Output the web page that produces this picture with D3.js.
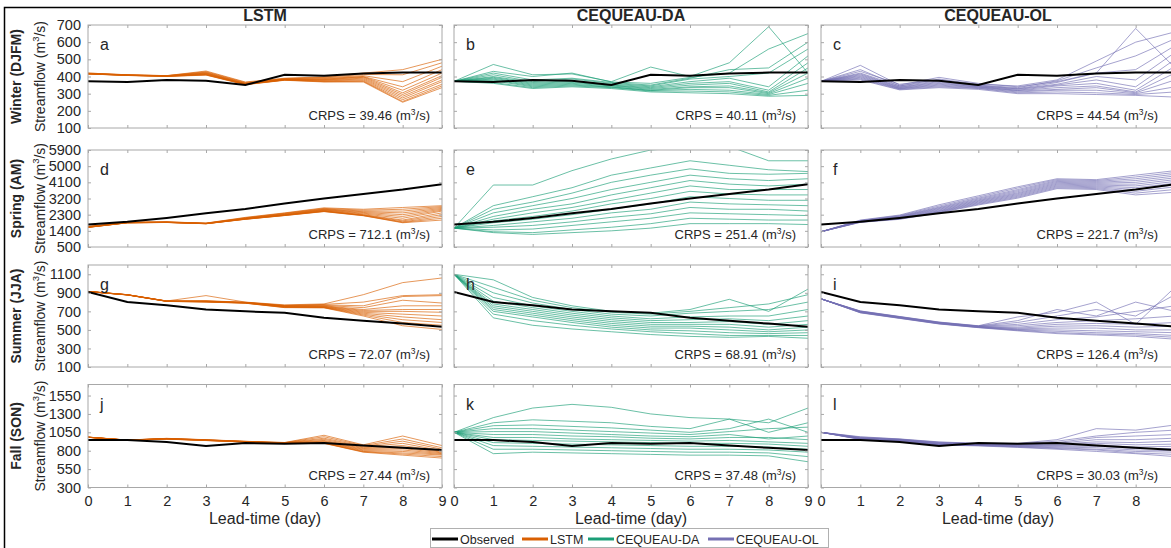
<!DOCTYPE html>
<html>
<head>
<meta charset="utf-8">
<script src="https://cdn.jsdelivr.net/npm/d3@7"></script>
<style>
    body { margin: 0; background: #fff; }
    svg { display: block; }
    text { font-family: "Liberation Sans", Arial, sans-serif; fill: #262626; }
</style>
</head>
<body>
<svg id="chart"></svg>
<script>
var leadDays = [0, 1, 2, 3, 4, 5, 6, 7, 8, 9];
var modelNames = ["LSTM", "CEQUEAU-DA", "CEQUEAU-OL"];
var modelColors = ["#d95f02", "#1b9e77", "#7570b3"];
var seasonNames = ["Winter (DJFM)", "Spring (AM)", "Summer (JJA)", "Fall (SON)"];
var panelLetters = ["a", "b", "c", "d", "e", "f", "g", "h", "i", "j", "k", "l"];

// y ticks per season row
var yTicksWinter = [100, 200, 300, 400, 500, 600, 700];
var yTicksSpring = [500, 1400, 2300, 3200, 4100, 5000, 5900];
var yTicksSummer = [100, 300, 500, 700, 900, 1100];
var yTicksFall = [300, 550, 800, 1050, 1300, 1550];

// CRPS per model, rows = seasons
var crpsLstm = ["39.46", "712.1", "72.07", "27.44"];
var crpsDa = ["40.11", "251.4", "68.91", "37.48"];
var crpsOl = ["44.54", "221.7", "126.4", "30.03"];

// observed streamflow
var observedWinter = [372, 368, 380, 375, 350, 410, 405, 418, 423, 423];
var observedSpring = [1750, 1900, 2120, 2380, 2620, 2920, 3200, 3450, 3700, 4000];
var observedSummer = [910, 800, 765, 720, 700, 685, 632, 598, 568, 535];
var observedFall = [945, 945, 918, 865, 905, 895, 905, 870, 840, 810];

// ensemble members (each row one member, lead 0..9)
var lstmWinter = [
    [420, 410, 405, 432, 368, 390, 398, 420, 440, 500],
    [420, 410, 405, 428, 365, 388, 395, 412, 410, 480],
    [418, 409, 404, 425, 362, 386, 392, 405, 370, 460],
    [418, 409, 404, 422, 360, 385, 388, 400, 340, 440],
    [417, 408, 403, 420, 358, 384, 385, 398, 320, 420],
    [417, 408, 403, 418, 357, 383, 382, 395, 305, 405],
    [416, 408, 402, 416, 356, 382, 380, 390, 295, 395],
    [416, 407, 402, 414, 355, 381, 378, 385, 285, 380],
    [416, 407, 402, 412, 355, 380, 375, 380, 275, 370],
    [415, 407, 401, 410, 354, 380, 372, 375, 265, 355],
    [415, 406, 401, 410, 353, 379, 370, 372, 255, 345],
    [415, 406, 400, 408, 352, 378, 368, 368, 250, 335]
];
var daWinter = [
    [372, 470, 410, 415, 370, 455, 400, 480, 690, 420],
    [372, 430, 400, 420, 368, 360, 395, 420, 560, 650],
    [372, 420, 380, 390, 365, 350, 390, 440, 450, 600],
    [372, 410, 370, 385, 360, 345, 385, 400, 420, 560],
    [372, 400, 365, 375, 355, 340, 370, 390, 340, 520],
    [372, 395, 360, 370, 350, 335, 360, 370, 320, 480],
    [372, 390, 355, 365, 348, 330, 350, 360, 310, 450],
    [372, 385, 350, 360, 345, 325, 340, 345, 305, 420],
    [372, 380, 345, 355, 340, 320, 335, 335, 300, 390],
    [372, 375, 340, 350, 338, 318, 325, 320, 295, 360],
    [372, 365, 335, 345, 335, 315, 315, 310, 290, 320],
    [372, 360, 330, 340, 330, 310, 305, 300, 285, 290]
];
var olWinter = [
    [372, 465, 350, 395, 360, 340, 370, 420, 680, 450],
    [372, 440, 345, 385, 355, 345, 380, 490, 600, 660],
    [372, 430, 355, 380, 350, 335, 375, 450, 520, 620],
    [372, 420, 345, 375, 348, 330, 365, 420, 440, 580],
    [372, 415, 340, 370, 345, 328, 355, 400, 380, 540],
    [372, 410, 338, 365, 342, 325, 350, 380, 340, 500],
    [372, 405, 335, 360, 340, 320, 345, 360, 320, 460],
    [372, 400, 332, 355, 338, 318, 335, 345, 310, 420],
    [372, 395, 330, 350, 335, 315, 325, 335, 305, 380],
    [372, 390, 328, 345, 332, 310, 320, 320, 300, 340],
    [372, 385, 325, 340, 330, 305, 310, 305, 295, 310],
    [372, 380, 322, 335, 325, 300, 300, 295, 290, 280]
];
var lstmSpring = [
    [1650, 1880, 1900, 1830, 2150, 2400, 2680, 2600, 2700, 2800],
    [1640, 1875, 1895, 1825, 2130, 2380, 2650, 2550, 2600, 2750],
    [1630, 1870, 1890, 1820, 2110, 2360, 2620, 2500, 2500, 2700],
    [1620, 1865, 1885, 1815, 2100, 2340, 2600, 2460, 2400, 2650],
    [1615, 1860, 1880, 1810, 2090, 2320, 2580, 2420, 2300, 2600],
    [1610, 1858, 1878, 1808, 2080, 2300, 2560, 2380, 2200, 2550],
    [1605, 1855, 1875, 1805, 2070, 2290, 2540, 2340, 2100, 2500],
    [1600, 1852, 1872, 1802, 2060, 2280, 2520, 2300, 2000, 2400],
    [1598, 1850, 1870, 1800, 2055, 2270, 2500, 2280, 1950, 2300],
    [1595, 1848, 1868, 1798, 2050, 2260, 2490, 2260, 1900, 2200],
    [1592, 1846, 1866, 1796, 2045, 2255, 2480, 2250, 1870, 2100],
    [1590, 1845, 1865, 1795, 2040, 2250, 2470, 2240, 1850, 2000]
];
var daSpring = [
    [1550, 3950, 3950, 4750, 5400, 5900, 6050, 6100, 5300, 5300],
    [1550, 2800, 3300, 3800, 4500, 4900, 5300, 5050, 4800, 4700],
    [1550, 2600, 3000, 3500, 4100, 4500, 4850, 4600, 4550, 4600],
    [1550, 2400, 2800, 3200, 3700, 4100, 4500, 4300, 4200, 4300],
    [1550, 2200, 2600, 2900, 3400, 3800, 4200, 4000, 3900, 4000],
    [1550, 2050, 2400, 2700, 3100, 3500, 3900, 3700, 3700, 3700],
    [1550, 1950, 2200, 2500, 2900, 3200, 3600, 3450, 3400, 3400],
    [1550, 1850, 2050, 2300, 2600, 2900, 3300, 3200, 3100, 3100],
    [1550, 1700, 1900, 2100, 2400, 2600, 3000, 2900, 2850, 2800],
    [1550, 1600, 1700, 1900, 2150, 2350, 2700, 2600, 2600, 2500],
    [1550, 1450, 1500, 1700, 1900, 2100, 2400, 2350, 2300, 2250],
    [1550, 1350, 1300, 1450, 1600, 1800, 2100, 2050, 2000, 2000],
    [1550, 1300, 1200, 1300, 1400, 1550, 1800, 1800, 1800, 1750]
];
var olSpring = [
    [1350, 2000, 2280, 2850, 3350, 3850, 4300, 4250, 4500, 4750],
    [1350, 1980, 2250, 2780, 3280, 3780, 4250, 4200, 4400, 4650],
    [1350, 1960, 2220, 2720, 3220, 3700, 4200, 4150, 4300, 4550],
    [1350, 1950, 2200, 2680, 3170, 3640, 4150, 4100, 4200, 4450],
    [1350, 1940, 2180, 2640, 3120, 3580, 4100, 4050, 4100, 4350],
    [1350, 1930, 2160, 2600, 3080, 3520, 4050, 4000, 4000, 4250],
    [1350, 1920, 2140, 2560, 3040, 3470, 4000, 3950, 3900, 4150],
    [1350, 1910, 2120, 2520, 3000, 3420, 3950, 3900, 3800, 4050],
    [1350, 1900, 2100, 2490, 2960, 3370, 3900, 3850, 3700, 3950],
    [1350, 1890, 2080, 2460, 2920, 3320, 3850, 3800, 3600, 3850],
    [1350, 1880, 2060, 2430, 2880, 3270, 3800, 3750, 3500, 3700],
    [1350, 1870, 2040, 2400, 2840, 3220, 3750, 3700, 3400, 3550]
];
var lstmSummer = [
    [915, 880, 812, 870, 800, 770, 780, 880, 1010, 1060],
    [915, 880, 812, 815, 798, 765, 775, 800, 870, 880],
    [915, 880, 811, 812, 797, 762, 770, 760, 860, 870],
    [915, 879, 811, 810, 796, 760, 765, 740, 820, 790],
    [914, 879, 810, 810, 795, 757, 760, 720, 760, 760],
    [914, 879, 810, 808, 794, 755, 755, 710, 720, 720],
    [914, 878, 810, 806, 793, 752, 752, 700, 700, 690],
    [914, 878, 809, 805, 792, 750, 748, 690, 670, 650],
    [913, 878, 809, 804, 791, 747, 745, 680, 640, 610],
    [913, 877, 808, 803, 790, 745, 742, 670, 610, 580],
    [913, 877, 808, 802, 789, 742, 740, 660, 580, 550],
    [913, 877, 807, 800, 788, 740, 738, 650, 545, 505]
];
var daSummer = [
    [1100, 1040, 850, 760, 700, 680, 720, 830, 700, 940],
    [1100, 960, 820, 740, 690, 670, 700, 740, 780, 880],
    [1100, 900, 790, 720, 670, 650, 680, 700, 720, 800],
    [1100, 850, 760, 700, 650, 620, 640, 650, 650, 720],
    [1100, 810, 740, 680, 630, 600, 610, 620, 600, 650],
    [1100, 780, 720, 660, 610, 580, 580, 590, 560, 600],
    [1100, 760, 700, 640, 590, 560, 560, 560, 530, 560],
    [1100, 740, 680, 620, 570, 540, 540, 530, 500, 530],
    [1100, 720, 660, 600, 550, 520, 520, 500, 480, 500],
    [1100, 700, 640, 580, 530, 500, 490, 470, 460, 470],
    [1100, 670, 600, 550, 510, 480, 460, 440, 440, 440],
    [1100, 630, 550, 510, 480, 450, 430, 420, 430, 410]
];
var olSummer = [
    [835, 705, 645, 585, 545, 640, 690, 800, 560, 960],
    [835, 703, 643, 583, 543, 600, 720, 650, 800, 700],
    [835, 701, 641, 581, 541, 580, 650, 720, 650, 880],
    [835, 699, 639, 579, 539, 560, 610, 640, 700, 760],
    [835, 697, 637, 577, 537, 545, 580, 600, 620, 650],
    [835, 695, 635, 575, 535, 530, 560, 570, 560, 580],
    [835, 694, 634, 574, 534, 520, 540, 545, 530, 540],
    [835, 692, 632, 572, 532, 512, 520, 520, 500, 500],
    [835, 690, 630, 570, 530, 505, 500, 490, 480, 470],
    [835, 688, 628, 568, 528, 500, 485, 470, 460, 440],
    [835, 686, 626, 566, 526, 495, 470, 455, 445, 420],
    [835, 684, 624, 564, 524, 490, 460, 445, 430, 400]
];
var lstmFall = [
    [985, 945, 968, 950, 928, 912, 1010, 880, 1000, 870],
    [985, 945, 967, 948, 927, 910, 990, 870, 960, 840],
    [985, 944, 966, 947, 926, 908, 970, 860, 930, 820],
    [984, 944, 965, 946, 925, 906, 955, 850, 900, 800],
    [984, 944, 964, 945, 924, 905, 940, 840, 870, 790],
    [984, 943, 963, 944, 923, 904, 930, 830, 850, 780],
    [983, 943, 962, 943, 922, 903, 920, 820, 830, 770],
    [983, 943, 961, 942, 921, 902, 915, 810, 810, 760],
    [983, 942, 960, 941, 920, 901, 910, 800, 790, 750],
    [982, 942, 959, 940, 919, 900, 905, 790, 770, 740],
    [982, 942, 958, 939, 918, 899, 902, 785, 755, 720],
    [982, 941, 957, 938, 917, 898, 900, 780, 740, 700]
];
var daFall = [
    [1050, 1250, 1380, 1430, 1390, 1300, 1250, 1230, 1180, 1380],
    [1050, 1180, 1220, 1200, 1180, 1130, 1100, 1230, 1050, 1180],
    [1050, 1140, 1150, 1130, 1110, 1080, 1050, 1100, 1230, 1050],
    [1050, 1100, 1100, 1080, 1060, 1040, 1020, 1060, 1100, 1120],
    [1050, 1060, 1060, 1040, 1020, 1000, 990, 1020, 960, 1000],
    [1050, 1020, 1020, 1000, 990, 970, 960, 980, 980, 950],
    [1050, 980, 980, 960, 950, 940, 930, 940, 920, 900],
    [1050, 950, 940, 930, 920, 910, 900, 900, 890, 860],
    [1050, 910, 900, 890, 880, 870, 860, 860, 850, 820],
    [1050, 870, 860, 850, 840, 830, 820, 820, 810, 780],
    [1050, 820, 820, 810, 800, 790, 780, 780, 770, 720],
    [1050, 760, 780, 770, 760, 750, 740, 740, 730, 650]
];
var olFall = [
    [1050, 990, 960, 920, 900, 900, 950, 1100, 1080, 1150],
    [1050, 985, 958, 915, 898, 895, 930, 1000, 1050, 1080],
    [1050, 980, 955, 910, 895, 890, 910, 980, 1000, 1020],
    [1050, 975, 952, 905, 892, 885, 900, 950, 950, 970],
    [1050, 970, 950, 900, 888, 880, 890, 920, 910, 930],
    [1050, 968, 948, 895, 885, 875, 880, 900, 880, 890],
    [1050, 965, 945, 890, 882, 870, 870, 880, 850, 860],
    [1050, 962, 942, 888, 878, 865, 860, 860, 830, 830],
    [1050, 960, 940, 885, 875, 860, 850, 840, 810, 800],
    [1050, 958, 938, 882, 872, 855, 840, 820, 790, 780],
    [1050, 955, 935, 880, 870, 850, 830, 810, 770, 750],
    [1050, 952, 932, 878, 865, 845, 820, 790, 760, 720]
];

// table built from the arrays above
var rows = [
    {ticks: yTicksWinter, obs: observedWinter, runs: [lstmWinter, daWinter, olWinter]},
    {ticks: yTicksSpring, obs: observedSpring, runs: [lstmSpring, daSpring, olSpring]},
    {ticks: yTicksSummer, obs: observedSummer, runs: [lstmSummer, daSummer, olSummer]},
    {ticks: yTicksFall, obs: observedFall, runs: [lstmFall, daFall, olFall]}
];
var crps = [crpsLstm, crpsDa, crpsOl];
var yDomains = [[100, 700], [500, 5900], [100, 1200], [300, 1700]];

var w = 1171;
var h = 548;
var colLeft = [88, 454, 821];
var plotW = 354;
var rowTop = [25, 150, 265, 384.5];
var rowBottom = [128, 247, 367, 487.5];
var axisGray = "#a8a8a8";

var svg = d3.select("#chart")
    .attr("width", w)
    .attr("height", h);

// figure frame
svg.append("rect")
    .attr("x", 4.5)
    .attr("y", 7.5)
    .attr("width", w + 10)
    .attr("height", h + 10)
    .attr("fill", "none")
    .attr("stroke", "#000")
    .attr("stroke-width", 1.5);

// column titles
modelNames.forEach(function (name, c) {
    svg.append("text")
        .text(name)
        .attr("x", colLeft[c] + plotW / 2)
        .attr("y", 21)
        .attr("text-anchor", "middle")
        .attr("font-size", "16px")
        .attr("font-weight", "bold")
        .attr("fill", "#000");
});

rows.forEach(function (row, r) {
    var y = d3.scaleLinear().domain(yDomains[r]).range([rowBottom[r], rowTop[r]]);
    var midY = (rowTop[r] + rowBottom[r]) / 2;

    // two-line y label
    svg.append("text")
        .text(seasonNames[r])
        .attr("transform", "translate(16," + midY + ") rotate(-90)")
        .attr("text-anchor", "middle")
        .attr("dominant-baseline", "central")
        .attr("font-size", "14px")
        .attr("font-weight", "bold")
        .attr("fill", "#000");
    var yl = svg.append("text")
        .attr("transform", "translate(40," + midY + ") rotate(-90)")
        .attr("text-anchor", "middle")
        .attr("dominant-baseline", "central")
        .attr("font-size", "14px");
    yl.append("tspan").text("Streamflow (m");
    yl.append("tspan").text("3").attr("font-size", "9.5px").attr("dy", -5);
    yl.append("tspan").text("/s)").attr("dy", 5);

    modelNames.forEach(function (name, c) {
        var x = d3.scaleLinear().domain([0, 9]).range([colLeft[c], colLeft[c] + plotW]);
        var id = "clip" + r + c;

        svg.append("clipPath").attr("id", id)
            .append("rect")
            .attr("x", colLeft[c])
            .attr("y", rowTop[r])
            .attr("width", plotW)
            .attr("height", rowBottom[r] - rowTop[r]);

        var line = d3.line()
            .x(function (d, i) { return x(leadDays[i]); })
            .y(function (d) { return y(d); });

        var g = svg.append("g").attr("clip-path", "url(#" + id + ")");

        // ensemble members
        g.selectAll("path.member")
            .data(row.runs[c])
            .enter()
            .append("path")
            .attr("class", "member")
            .attr("d", line)
            .attr("fill", "none")
            .attr("stroke", modelColors[c])
            .attr("stroke-width", 1)
            .attr("stroke-opacity", 0.65);

        // observed
        g.append("path")
            .attr("d", line(row.obs))
            .attr("fill", "none")
            .attr("stroke", "#000")
            .attr("stroke-width", 2);

        // axes, inside ticks
        var xb = d3.axisBottom(x).tickValues(leadDays).tickSizeInner(-3).tickSizeOuter(0).tickPadding(8)
            .tickFormat(d3.format("d"));
        if (r < 3) xb.tickFormat("");
        svg.append("g").attr("transform", "translate(0," + rowBottom[r] + ")").call(xb);
        svg.append("g").attr("transform", "translate(0," + rowTop[r] + ")")
            .call(d3.axisTop(x).tickValues(leadDays).tickSizeInner(-3).tickSizeOuter(0).tickFormat(""));

        var yLeft = d3.axisLeft(y).tickValues(row.ticks).tickSizeInner(-3).tickSizeOuter(0).tickPadding(7)
            .tickFormat(d3.format("d"));
        if (c > 0) yLeft.tickFormat("");
        svg.append("g").attr("transform", "translate(" + colLeft[c] + ",0)").call(yLeft);
        svg.append("g").attr("transform", "translate(" + (colLeft[c] + plotW) + ",0)")
            .call(d3.axisRight(y).tickValues(row.ticks).tickSizeInner(-3).tickSizeOuter(0).tickFormat(""));

        // box
        svg.append("rect")
            .attr("x", colLeft[c])
            .attr("y", rowTop[r])
            .attr("width", plotW)
            .attr("height", rowBottom[r] - rowTop[r])
            .attr("fill", "none")
            .attr("stroke", axisGray);

        // panel letter
        svg.append("text")
            .text(panelLetters[r * 3 + c])
            .attr("x", colLeft[c] + 12)
            .attr("y", rowTop[r] + 25)
            .attr("font-size", "16px")
            .attr("fill", "#000");

        // CRPS note
        var ct = svg.append("text")
            .attr("x", colLeft[c] + plotW - (c == 2 ? 17 : 12))
            .attr("y", rowBottom[r] - 8)
            .attr("text-anchor", "end")
            .attr("font-size", "13px")
            .attr("fill", "#000");
        ct.append("tspan").text("CRPS = " + crps[c][r] + " (m");
        ct.append("tspan").text("3").attr("font-size", "8.5px").attr("dy", -5);
        ct.append("tspan").text("/s)").attr("dy", 5);

        if (r == 3) {
            svg.append("text")
                .text("Lead-time (day)")
                .attr("x", colLeft[c] + plotW / 2)
                .attr("y", 524)
                .attr("text-anchor", "middle")
                .attr("font-size", "16px");
        }
    });
});

// axis styling
svg.selectAll(".domain").remove();
svg.selectAll(".tick line").attr("stroke", axisGray);
svg.selectAll(".tick text")
    .attr("font-family", "Liberation Sans, Arial, sans-serif")
    .attr("font-size", "14.5px")
    .attr("fill", "#262626");

// legend
var legend = svg.append("g");
legend.append("rect")
    .attr("x", 430.5)
    .attr("y", 528.5)
    .attr("width", 398)
    .attr("height", 19)
    .attr("fill", "#fff")
    .attr("stroke", "#b0b0b0");

var legendNames = ["Observed"].concat(modelNames);
var legendColors = ["#000"].concat(modelColors);
var legendX = [432, 522, 588, 708];
legendNames.forEach(function (name, i) {
    legend.append("line")
        .attr("x1", legendX[i])
        .attr("x2", legendX[i] + 26)
        .attr("y1", 539)
        .attr("y2", 539)
        .attr("stroke", legendColors[i])
        .attr("stroke-width", 3);
    legend.append("text")
        .text(name)
        .attr("x", legendX[i] + 28)
        .attr("y", 543.5)
        .attr("font-size", "12.5px")
        .attr("fill", "#000");
});
</script>
</body>
</html>
